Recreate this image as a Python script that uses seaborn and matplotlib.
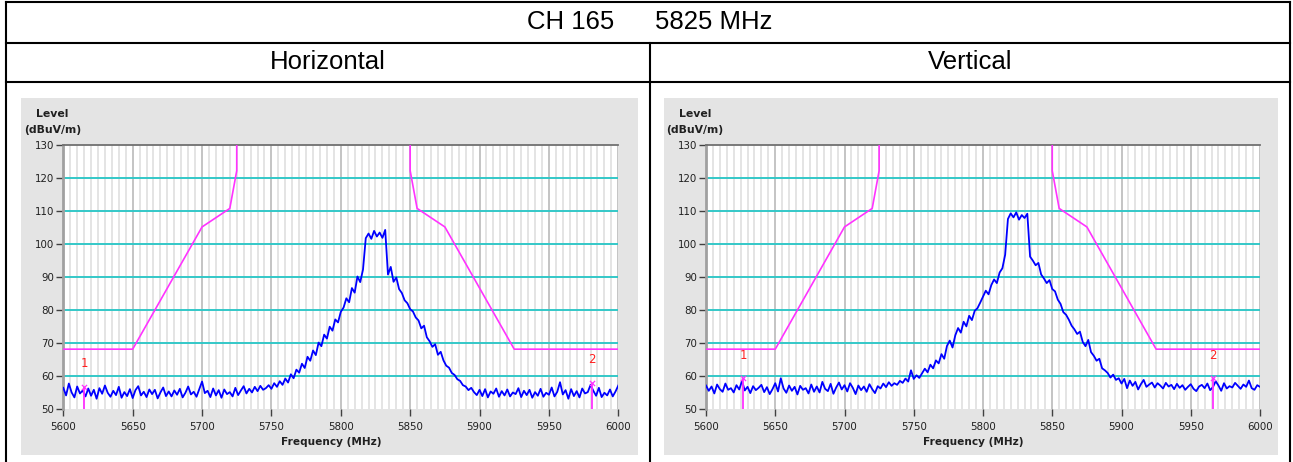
import numpy as np
import pandas as pd
import matplotlib
matplotlib.use("Agg")
import matplotlib.pyplot as plt
import seaborn as sns
from matplotlib.patches import Rectangle
from matplotlib.ticker import MultipleLocator

# ---------------- data ----------------
title_ch = "CH 165"
title_freq = "5825 MHz"
polarizations = ["Horizontal", "Vertical"]

freq = np.arange(5600, 6001, 2)

level_h = [
    56.5, 54.2, 57.8, 55.1, 53.6, 56.9, 54.8, 55.7, 53.9, 56.3,
    54.1, 55.9, 53.2, 56.4, 54.7, 57.2, 55.0, 53.8, 55.6, 54.3,
    56.8, 53.5, 55.2, 54.0, 56.1, 53.4, 55.8, 57.0, 54.2, 55.3,
    53.7, 56.0, 54.6, 55.9, 53.3, 55.1, 56.6, 54.0, 55.4, 53.9,
    55.7, 54.4, 56.2, 53.6, 55.0, 56.9, 54.5, 55.3, 53.8, 56.1,
    58.4, 54.9, 55.6, 53.7, 56.3, 54.2, 55.8, 53.5, 56.0, 54.6,
    55.2, 53.9, 56.5, 54.3, 55.7, 57.0, 54.8, 56.2, 55.1, 56.8,
    55.5, 57.1, 55.9, 56.4, 57.3, 56.2, 57.9, 56.8, 58.5, 57.4,
    59.3, 58.1, 60.6, 59.4, 62.0, 61.1, 63.8, 62.5, 65.9, 64.7,
    67.8, 66.4, 70.2, 69.1, 72.6, 71.4, 75.0, 73.8, 77.2, 76.3,
    79.5, 80.8, 83.6, 82.4, 86.7, 85.3, 90.2, 88.5, 92.3, 101.8,
    103.2, 101.6, 104.0, 102.3, 103.5, 101.9, 104.3, 90.8, 93.1, 88.6,
    89.9, 86.4, 85.2, 83.0, 82.1, 80.3, 79.6, 77.8, 76.9, 74.5,
    75.3, 71.8, 70.6, 68.9, 69.7, 66.5, 67.4, 64.8, 63.2, 62.6,
    61.0, 60.4, 59.1, 58.6, 57.3, 56.9, 55.8, 56.5, 55.2, 54.3,
    55.9, 54.0, 56.1, 53.6, 55.4, 54.7, 56.3, 53.8, 55.5, 54.2,
    56.0, 53.9, 55.1, 54.6, 56.4, 53.7, 55.6, 54.3, 55.9, 53.5,
    55.2, 54.1, 56.2, 53.8, 55.0, 54.4, 56.6, 53.9, 55.3, 58.2,
    54.5, 55.8, 53.2, 56.1, 54.0, 55.5, 53.6, 56.3, 54.8, 55.2,
    57.4, 55.6, 54.1, 56.5, 53.7, 55.0, 54.2, 56.0, 53.9, 55.4,
    57.2,
]

level_v = [
    57.2, 55.6, 56.9, 54.8, 57.5, 56.1, 55.3, 57.8, 55.9, 56.4,
    55.1, 57.3, 56.0, 58.6, 55.7, 56.8, 54.9, 57.0, 55.8, 56.5,
    57.4, 55.2, 56.7, 54.6, 56.1, 57.9, 55.4, 59.4, 56.3, 55.0,
    57.2, 55.6, 56.8, 54.5, 57.1, 55.9, 56.4, 54.8, 57.5, 55.3,
    56.9, 55.1, 58.3, 56.2, 55.5, 57.7, 54.7, 56.6, 58.1, 56.0,
    57.3, 55.4, 57.9, 56.5, 54.6, 57.2, 55.8, 56.9, 55.3, 57.6,
    56.1, 54.9, 57.0, 56.3, 57.8, 56.7, 58.2, 57.1, 57.9, 57.4,
    58.6, 58.0, 59.3, 58.4, 61.8, 59.2, 60.3, 59.5, 60.9, 62.3,
    61.2, 63.5, 62.4, 64.8, 63.9, 66.7, 65.3, 69.2, 70.8, 68.7,
    72.4, 74.6, 73.2, 76.5, 75.1, 78.3, 77.0, 79.8, 80.6, 82.3,
    84.1, 85.9, 84.8, 87.6, 89.3, 88.2, 91.4, 92.7, 96.8, 107.6,
    109.3, 108.1, 109.6, 107.4, 108.8, 107.9, 109.2, 96.2, 95.0, 93.6,
    94.3, 90.8, 89.6, 88.2, 89.1, 86.4, 85.7, 83.2, 81.9, 79.4,
    78.6, 77.1, 75.3, 74.2, 72.8, 73.5, 70.4, 69.1, 71.0, 67.3,
    66.2, 64.7, 65.3, 62.4, 61.8, 61.0, 59.6, 60.5, 58.9, 59.4,
    57.8, 59.2, 56.4, 58.7, 57.1, 58.3, 56.0, 57.6, 58.9, 56.8,
    57.5, 58.1, 56.6, 57.9, 57.2, 56.3, 58.0, 56.9, 57.4, 56.1,
    57.7, 56.5, 57.3, 55.9, 56.8, 57.6, 56.2, 55.5, 56.9, 57.4,
    56.4, 57.8, 55.8, 56.7, 58.5, 57.2, 55.6, 57.9, 56.3, 57.0,
    56.6, 58.0, 57.1, 56.2, 57.5, 56.8, 58.7, 56.4, 55.9, 57.3,
    56.8,
]

mask_lo_f = [5600, 5650, 5700, 5720, 5725, 5725]
mask_lo_l = [68.2, 68.2, 105.2, 110.8, 122.2, 130.0]
mask_hi_f = [5850, 5850, 5855, 5875, 5925, 6000]
mask_hi_l = [130.0, 122.2, 110.8, 105.2, 68.2, 68.2]

marker_labels = ["1", "2"]
markers_h_f = [5615, 5981]
markers_h_l = [56.8, 58.0]
markers_v_f = [5627, 5966]
markers_v_l = [59.4, 59.4]

y_ticks = [50, 60, 70, 80, 90, 100, 110, 120, 130]
x_ticks = [5600, 5650, 5700, 5750, 5800, 5850, 5900, 5950, 6000]

# ---------------- figure ----------------
W, H = 1293, 462
fig = plt.figure(figsize=(W / 100, H / 100), dpi=100)
fig.patch.set_facecolor("white")

bg = fig.add_axes([0, 0, 1, 1])
bg.set_xlim(0, W)
bg.set_ylim(H, 0)
bg.axis("off")
bg.set_zorder(0)

table_font = "Liberation Sans"
lw_t = 1.5
bg.plot([6, 1290], [1.5, 1.5], color="black", lw=lw_t)
bg.plot([6, 1290], [42.7, 42.7], color="black", lw=lw_t)
bg.plot([6, 1290], [81.7, 81.7], color="black", lw=lw_t)
bg.plot([6, 6], [1.5, H], color="black", lw=lw_t)
bg.plot([1290, 1290], [1.5, H], color="black", lw=lw_t)
bg.plot([650, 650], [42.7, H], color="black", lw=lw_t)

bg.text(527, 22, title_ch, ha="left", va="center", fontsize=18.5, family=table_font)
bg.text(655, 22, title_freq, ha="left", va="center", fontsize=18.5, family=table_font)
bg.text(328, 62, polarizations[0], ha="center", va="center", fontsize=18.5, family=table_font)
bg.text(970, 62, polarizations[1], ha="center", va="center", fontsize=18.5, family=table_font)

panels = [
    dict(bg=(21, 98, 617, 357), ax=(63.3, 145, 618.3, 409.3),
         level=level_h, mf=markers_h_f, ml=markers_h_l),
    dict(bg=(664, 98, 614, 357), ax=(706, 145, 1260, 409.3),
         level=level_v, mf=markers_v_f, ml=markers_v_l),
]

BLUE = "#0000FF"
MAG = "#FF33FF"
CYAN = "#33C8C8"

for p in panels:
    x0, y0, w, h = p["bg"]
    bg.add_patch(Rectangle((x0, y0), w, h, facecolor="#E4E4E4", edgecolor="none"))
    ax0, ay0, ax1, ay1 = p["ax"]
    bg.text(ax0 - 11, 114, "Level", ha="center", va="center", fontsize=7.8,
            fontweight="bold", color="#202020")
    bg.text(ax0 - 11, 130, "(dBuV/m)", ha="center", va="center", fontsize=7.8,
            fontweight="bold", color="#202020")
    bg.text((ax0 + ax1) / 2 - 10, 442, "Frequency (MHz)", ha="center", va="center",
            fontsize=7.6, fontweight="bold", color="#202020")

    ax = fig.add_axes([ax0 / W, (H - ay1) / H, (ax1 - ax0) / W, (ay1 - ay0) / H])
    ax.set_zorder(2)
    ax.set_facecolor("white")
    ax.set_xlim(5600, 6000)
    ax.set_ylim(50, 130)
    ax.set_xticks(x_ticks)
    ax.set_yticks(y_ticks)
    ax.xaxis.set_minor_locator(MultipleLocator(5))
    ax.set_axisbelow(True)
    ax.grid(axis="x", which="minor", color="#DCDCDC", lw=1.1)
    ax.grid(axis="x", which="major", color="#B4B4B4", lw=1.1)
    for yv in y_ticks[1:-1]:
        ax.axhline(yv, color=CYAN, lw=1.4, zorder=1)

    df = pd.DataFrame({"freq": freq, "level": p["level"]})
    sns.lineplot(data=df, x="freq", y="level", ax=ax, color=BLUE, lw=1.3,
                 estimator=None, sort=False, zorder=4)
    sns.lineplot(x=mask_lo_f, y=mask_lo_l, ax=ax, color=MAG, lw=1.2,
                 estimator=None, sort=False, zorder=3)
    sns.lineplot(x=mask_hi_f, y=mask_hi_l, ax=ax, color=MAG, lw=1.2,
                 estimator=None, sort=False, zorder=3)

    ax.vlines(p["mf"], 50, p["ml"], color=MAG, lw=1.3, zorder=5)
    ax.scatter(p["mf"], p["ml"], marker="x", color=MAG, s=14, lw=0.9, zorder=6)
    for lab, f, l in zip(marker_labels, p["mf"], p["ml"]):
        ax.text(f, l + 7, lab, color="#FF2020", ha="center", va="center", fontsize=8.5)

    ax.set_xlabel("")
    ax.set_ylabel("")
    for s in ["bottom", "right"]:
        ax.spines[s].set_visible(False)
    ax.spines["top"].set_color("#707070")
    ax.spines["top"].set_linewidth(1.3)
    ax.spines["left"].set_color("#A0A0A0")
    ax.spines["left"].set_linewidth(2.0)
    ax.tick_params(axis="both", which="major", direction="out", length=5, width=1,
                   color="#404040", labelsize=7.4, labelcolor="#202020")
    ax.tick_params(axis="x", which="major", pad=4)
    ax.tick_params(axis="y", which="major", pad=1.5)
    ax.tick_params(axis="x", which="minor", length=0)

fig.savefig("out.png", dpi=100)
